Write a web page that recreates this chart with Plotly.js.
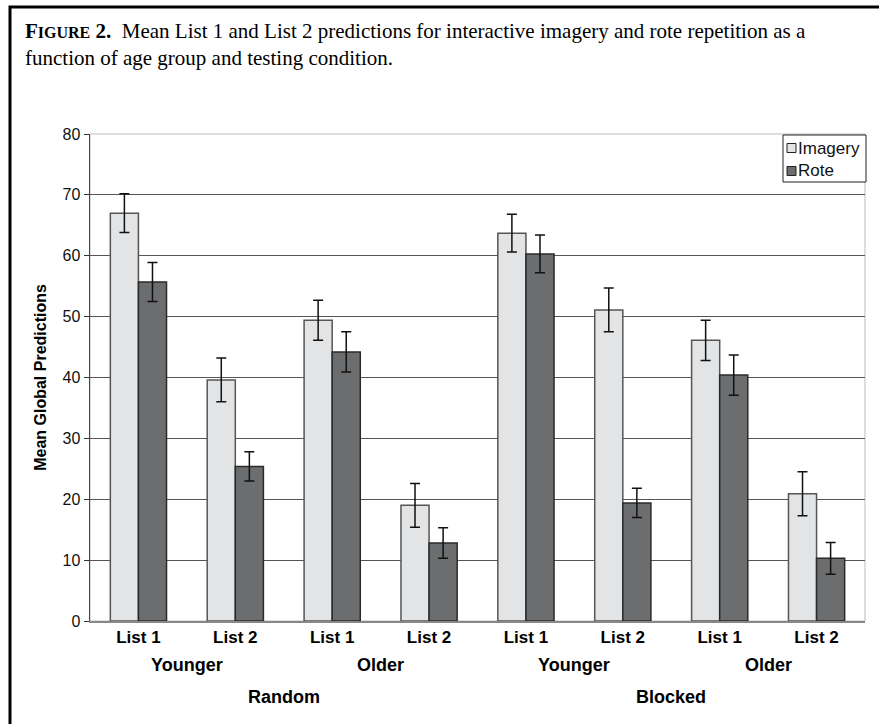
<!DOCTYPE html>
<html>
<head>
<meta charset="utf-8">
<script src="https://cdn.plot.ly/plotly-3.0.1.min.js"></script>
<style>html,body{margin:0;padding:0;background:#fff;}#chart{width:879px;height:724px;}</style>
</head>
<body>
<div id="chart"></div>
<script>
// ---- data ----
const listLabels = ["List 1","List 2","List 1","List 2","List 1","List 2","List 1","List 2"];
const ageLabels = ["Younger","Older","Younger","Older"];
const conditionLabels = ["Random","Blocked"];
const seriesNames = ["Imagery","Rote"];
const imageryMeans = [67.0, 39.6, 49.4, 19.0, 63.7, 51.1, 46.1, 20.9];
const imageryErr   = [3.2, 3.6, 3.3, 3.6, 3.1, 3.6, 3.3, 3.6];
const roteMeans    = [55.7, 25.4, 44.2, 12.8, 60.3, 19.4, 40.4, 10.3];
const roteErr      = [3.2, 2.4, 3.3, 2.5, 3.1, 2.4, 3.3, 2.6];
const yTicks = [0,10,20,30,40,50,60,70,80];

const fillColors = ['#e3e4e6', '#6c6d6f'];
const edgeColors = ['#555555', '#2a2a2a'];

const xIdx = listLabels.map((_, i) => i);
const condensed = "Liberation Sans Narrow, Arial Narrow, Liberation Sans, Arial, sans-serif";
const sans = "Liberation Sans, Arial, sans-serif";

const traces = [
  {type:'bar', name:seriesNames[0], x:xIdx, y:imageryMeans,
   marker:{color:fillColors[0], line:{color:edgeColors[0], width:1.5}},
   error_y:{type:'data', array:imageryErr, visible:true, color:'#111', thickness:1.5, width:5}},
  {type:'bar', name:seriesNames[1], x:xIdx, y:roteMeans,
   marker:{color:fillColors[1], line:{color:edgeColors[1], width:1.5}},
   error_y:{type:'data', array:roteErr, visible:true, color:'#111', thickness:1.5, width:5}}
];

// pixel -> paper helpers
const L = 90, R = 14, T = 134, B = 103, W = 879, H = 724;
const pw = W-L-R, ph = H-T-B;
const px = v => (v-L)/pw, py = v => (H-B-v)/ph;

const annotations = [];
ageLabels.forEach((t, i) => annotations.push({
  text:'<b>'+t+'</b>', x:2*i+0.5, xref:'x', y:0, yref:'paper', yanchor:'middle', yshift:-44,
  showarrow:false, font:{family:condensed, size:18, color:'#000'}}));
conditionLabels.forEach((t, i) => annotations.push({
  text:'<b>'+t+'</b>', x:4*i+1.5, xref:'x', y:0, yref:'paper', yanchor:'middle', yshift:-76,
  showarrow:false, font:{family:condensed, size:18, color:'#000'}}));
annotations.push({
  text:'<b>F<span style="font-size:16px">IGURE</span> 2.</b>  Mean List 1 and List 2 predictions for interactive imagery and rote repetition as a<br>function of age group and testing condition.',
  xref:'paper', yref:'paper', x:px(23), y:py(17), xanchor:'left', yanchor:'top', align:'left',
  showarrow:false, font:{family:'Liberation Serif, Times New Roman, serif', size:21, color:'#000'}});

// custom legend (box + swatches + names)
const legY = [148, 171];
const shapes = [
  {type:'rect', xref:'paper', yref:'paper', x0:0, x1:1, y0:0, y1:1, line:{color:'#bbb', width:1}, layer:'below'},
  {type:'rect', xref:'paper', yref:'paper', x0:px(10), x1:px(895), y0:py(740), y1:py(7),
   line:{color:'#000', width:3}, fillcolor:'rgba(0,0,0,0)'},
  {type:'rect', xref:'paper', yref:'paper', x0:px(783), x1:px(866), y0:py(182), y1:py(135),
   line:{color:'#222', width:1}, fillcolor:'#fff'}
];
seriesNames.forEach((n, i) => {
  shapes.push({type:'rect', xref:'paper', yref:'paper', x0:px(787), x1:px(796), y0:py(legY[i]+4.5), y1:py(legY[i]-4.5),
    line:{color:'#222', width:1}, fillcolor:fillColors[i]});
  annotations.push({text:n, xref:'paper', yref:'paper', x:px(796), y:py(legY[i]), xanchor:'left', yanchor:'middle',
    showarrow:false, font:{family:sans, size:17, color:'#111'}});
});

const layout = {
  width:W, height:H,
  margin:{l:L, r:R, t:T, b:B},
  paper_bgcolor:'#fff', plot_bgcolor:'#fff',
  barmode:'group', bargap:0.42, bargroupgap:0,
  showlegend:false,
  xaxis:{range:[-0.5,7.5], tickmode:'array', tickvals:xIdx, ticktext:listLabels.map(s=>'<b>'+s+'</b>'),
         ticks:'', showgrid:false, zeroline:false, showline:true, linecolor:'#888', linewidth:1.5,
         tickfont:{family:condensed, size:17, color:'#000'}},
  yaxis:{range:[0,80], tickmode:'array', tickvals:yTicks, ticks:'outside', ticklen:5, tickcolor:'#333',
         showgrid:true, gridcolor:'#555', gridwidth:1, zeroline:false, showline:true, linecolor:'#444', linewidth:1.5,
         tickfont:{family:sans, size:16, color:'#111'},
         title:{text:'<b>Mean Global Predictions</b>', font:{family:sans, size:16, color:'#000'}, standoff:12}},
  annotations:annotations,
  shapes:shapes
};

Plotly.newPlot('chart', traces, layout, {displayModeBar:false, staticPlot:true});
</script>
</body>
</html>
